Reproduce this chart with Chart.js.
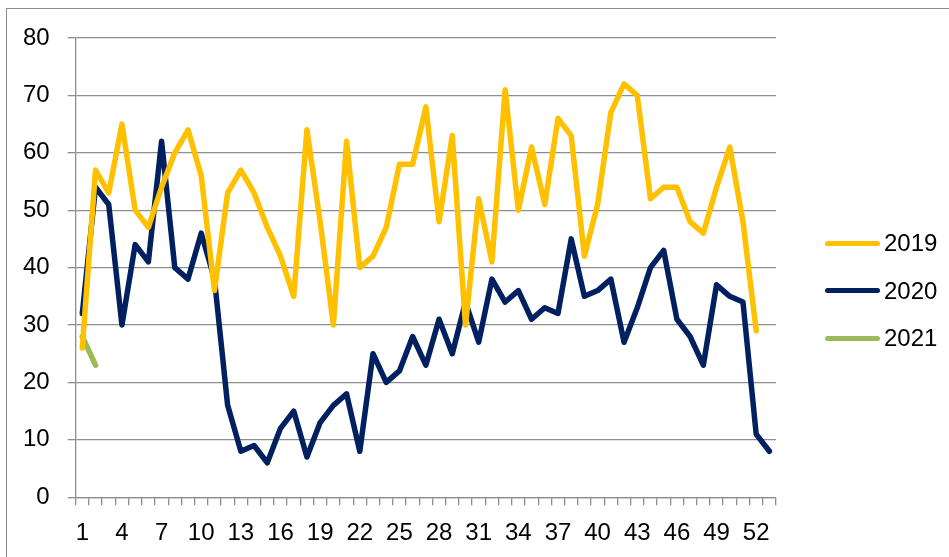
<!DOCTYPE html>
<html>
<head>
<meta charset="utf-8">
<script src="https://cdn.jsdelivr.net/npm/chart.js@4"></script>
<style>
  body { margin: 0; background: #fff; overflow: hidden; font-family: 'Liberation Sans', Arial, sans-serif; }
  #wrap { position: relative; width: 949px; height: 557px; }
  #frame { position: absolute; left: 6px; top: 8px; width: 1000px; height: 600px; border: 1px solid #8c8c8c; }
  #legend { position: absolute; left: 825px; top: 229px; }
  .item { display: flex; align-items: center; height: 28px; margin-bottom: 19.5px; font-size: 24px; color: #000; }
  .swatch { width: 55px; height: 5px; border-radius: 3px; margin-right: 4px; }
</style>
</head>
<body>
<div id="wrap">
  <div id="frame"></div>
  <canvas id="weekChart"></canvas>
  <div id="legend"></div>
</div>
<script>
const weeks = [];
for (let w = 1; w <= 53; w++) weeks.push(String(w));

const values2019 = [26, 57, 53, 65, 50, 47, 54, 60, 64, 56, 36, 53, 57, 53, 47, 42, 35, 64, 48, 30,
                    62, 40, 42, 47, 58, 58, 68, 48, 63, 30, 52, 41, 71, 50, 61, 51, 66, 63, 42, 51,
                    67, 72, 70, 52, 54, 54, 48, 46, 54, 61, 48, 29];
const values2020 = [32, 54, 51, 30, 44, 41, 62, 40, 38, 46, 38, 16, 8, 9, 6, 12, 15, 7, 13, 16,
                    18, 8, 25, 20, 22, 28, 23, 31, 25, 34, 27, 38, 34, 36, 31, 33, 32, 45, 35, 36,
                    38, 27, 33, 40, 43, 31, 28, 23, 37, 35, 34, 11, 8];
const values2021 = [28, 23];

const gridGray = '#8e8e8e';

document.addEventListener('DOMContentLoaded', function() {
    const ctx = document.getElementById('weekChart').getContext('2d');
    Chart.defaults.font.family = "'Liberation Sans', Arial, sans-serif";
    Chart.defaults.font.size = 24;
    Chart.defaults.color = '#000';

    function series(label, data, color) {
        return {
            label: label,
            data: data,
            borderColor: color,
            backgroundColor: color,
            borderWidth: 5.5,
            borderCapStyle: 'round',
            borderJoinStyle: 'round',
            pointRadius: 0,
            tension: 0,
            fill: false
        };
    }

    const chart = new Chart(ctx, {
        type: 'line',
        data: {
            labels: weeks,
            datasets: [
                series('2019', values2019, '#FFC000'),
                series('2020', values2020, '#002060'),
                series('2021', values2021, '#9BBB59')
            ]
        },
        options: {
            responsive: true,
            maintainAspectRatio: false,
            animation: false,
            layout: { padding: { top: 38, left: 5, right: 173, bottom: -5 } },
            plugins: {
                tooltip: { enabled: false },
                legend: { display: false }
            },
            scales: {
                x: {
                    offset: true,
                    grid: {
                        offset: true,
                        drawOnChartArea: false,
                        tickLength: 8,
                        color: gridGray,
                        lineWidth: 1.3
                    },
                    border: { color: gridGray, width: 1.3 },
                    ticks: {
                        autoSkip: false,
                        maxRotation: 0,
                        padding: 14,
                        callback: function(val, idx) {
                            return idx % 3 === 0 ? this.getLabelForValue(val) : '';
                        }
                    }
                },
                y: {
                    min: 0,
                    max: 80,
                    ticks: { stepSize: 10, padding: 18 },
                    grid: { color: gridGray, lineWidth: 1.3, tickLength: 8 },
                    border: { color: gridGray, width: 1.3 }
                }
            }
        }
    });

    // legend as html, from the datasets
    const legend = document.getElementById('legend');
    chart.data.datasets.forEach(function(ds) {
        const item = document.createElement('div');
        item.className = 'item';
        const swatch = document.createElement('span');
        swatch.className = 'swatch';
        swatch.style.background = ds.borderColor;
        item.appendChild(swatch);
        item.appendChild(document.createTextNode(ds.label));
        legend.appendChild(item);
    });
});
</script>
</body>
</html>
